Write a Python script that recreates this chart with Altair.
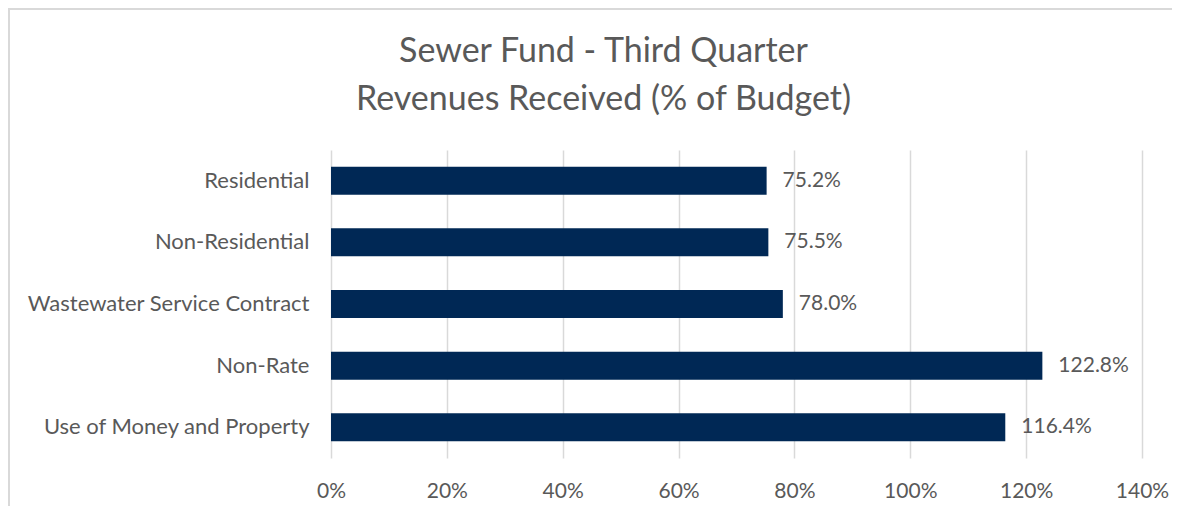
import altair as alt
import pandas as pd

categories = ["Residential", "Non-Residential", "Wastewater Service Contract", "Non-Rate", "Use of Money and Property"]
values = [75.2, 75.5, 78.0, 122.8, 116.4]
x_ticks = [0, 20, 40, 60, 80, 100, 120, 140]

df = pd.DataFrame({"cat": categories, "val": [v / 100 for v in values]})
df["lbl"] = [f"{v:.1f}%" for v in values]

FONT = "Lato"
GRAY = "#595959"
FS = 21

base = alt.Chart(df).encode(
    y=alt.Y("cat:N", sort=categories, title=None,
            scale=alt.Scale(paddingInner=0.545, paddingOuter=0.27),
            axis=alt.Axis(domain=False, ticks=False, labelPadding=22, labelFontSize=22,
                          labelFont=FONT, labelColor=GRAY, labelLimit=400)),
)

bars = base.mark_bar(color="#002855").encode(
    x=alt.X("val:Q", title=None,
            scale=alt.Scale(domain=[0, 1.4], nice=False),
            axis=alt.Axis(values=[t / 100 for t in x_ticks], format=".0%", domain=False, ticks=False,
                          grid=True, gridColor="#d9d9d9", gridWidth=1.5, labelFlush=False,
                          labelPadding=22, labelFontSize=FS, labelFont=FONT, labelColor=GRAY)),
)

text = base.mark_text(align="left", dx=16, fontSize=FS, font=FONT, color=GRAY).encode(
    x="val:Q", text="lbl:N"
)

border_top = alt.Chart(df).mark_rule(color="#d9d9d9", strokeWidth=2, clip=False).encode(
    x=alt.value(-323), x2=alt.value(860), y=alt.value(-141)
)
border_left = alt.Chart(df).mark_rule(color="#d9d9d9", strokeWidth=2, clip=False).encode(
    x=alt.value(-322), y=alt.value(-142), y2=alt.value(360)
)

chart = alt.layer(bars, text, border_top, border_left).properties(
    width=811, height=308,
    autosize=alt.AutoSizeParams(type="none"),
    padding={"left": 323, "top": 142, "right": 30, "bottom": 48},
    title=alt.Title(["Sewer Fund - Third Quarter", "Revenues Received (% of Budget)"],
                    anchor="middle", dx=-133, dy=148, baseline="top", offset=38, fontSize=34, font=FONT,
                    fontWeight="normal", color=GRAY, lineHeight=48),
).configure_view(stroke=None)

chart.save("out.html", embed_options={"renderer": "svg", "actions": False})
